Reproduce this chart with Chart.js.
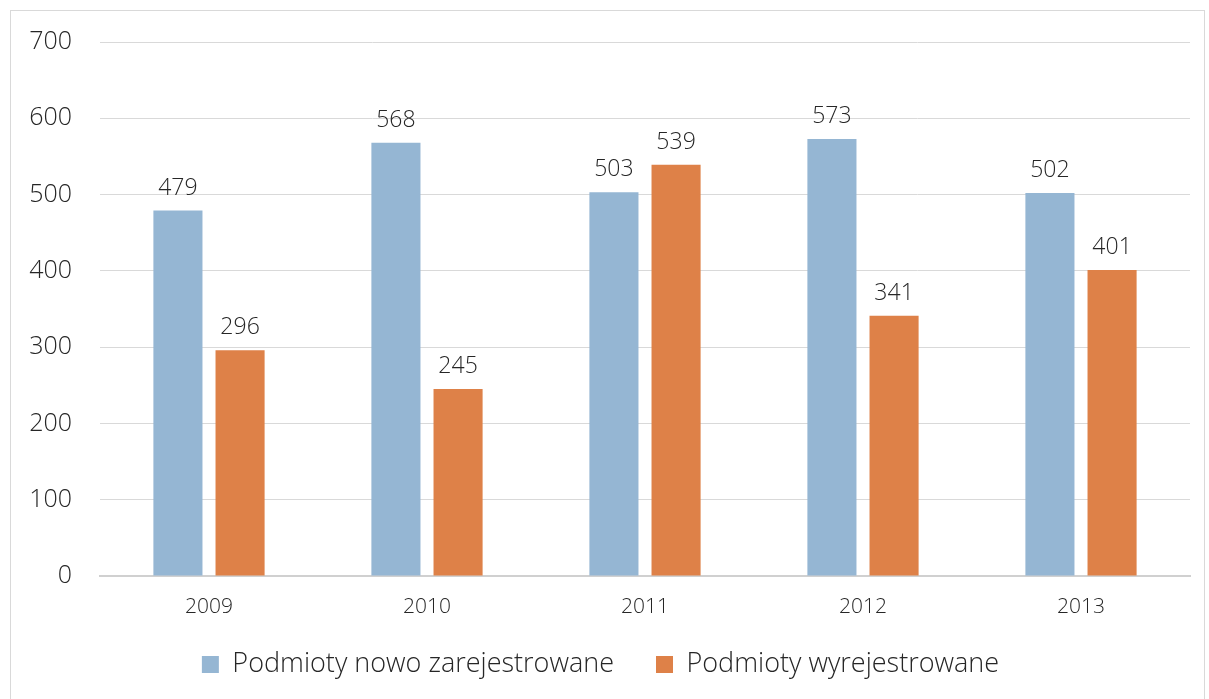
<!DOCTYPE html>
<html>
<head>
<meta charset="utf-8">
<script src="https://cdn.jsdelivr.net/npm/chart.js@4"></script>
<style>
  html, body { margin: 0; padding: 0; background: #ffffff; overflow: hidden; }
  #frame {
    position: absolute;
    left: 10px;
    top: 10px;
    width: 1195px;
    height: 720px;
    border: 1px solid #d9d9d9;
    box-sizing: border-box;
  }
</style>
</head>
<body>
<div id="frame"><canvas id="chart"></canvas></div>
<script>
"use strict";

const years = ['2009', '2010', '2011', '2012', '2013'];
const newlyRegistered = [479, 568, 503, 573, 502];
const deregistered = [296, 245, 539, 341, 401];
const yTicks = [0, 100, 200, 300, 400, 500, 600, 700];

const FONT = '"Open Sans", sans-serif';
const TEXT = '#262626';

// draws the value above each bar
const valueLabels = {
  id: 'valueLabels',
  afterDatasetsDraw(chart) {
    const ctx = chart.ctx;
    ctx.save();
    ctx.font = '300 23px ' + FONT;
    ctx.fillStyle = TEXT;
    ctx.textAlign = 'center';
    ctx.textBaseline = 'bottom';
    chart.data.datasets.forEach((ds, i) => {
      chart.getDatasetMeta(i).data.forEach((bar, j) => {
        ctx.fillText(String(ds.data[j]), bar.x, bar.y - 11);
      });
    });
    ctx.restore();
  }
};

// pulls the legend a bit closer to the axis labels
const legendLift = {
  id: 'legendLift',
  afterLayout(chart) {
    const lg = chart.legend;
    lg.top -= 15;
    lg.bottom -= 15;
  }
};

new Chart(document.getElementById('chart'), {
  type: 'bar',
  data: {
    labels: years,
    datasets: [
      {
        label: 'Podmioty nowo zarejestrowane',
        data: newlyRegistered,
        backgroundColor: '#95B6D3'
      },
      {
        label: 'Podmioty wyrejestrowane',
        data: deregistered,
        backgroundColor: '#DE8148'
      }
    ]
  },
  options: {
    responsive: true,
    maintainAspectRatio: false,
    animation: false,
    layout: {
      padding: { left: 0, right: 14, top: 31, bottom: 26 }
    },
    datasets: {
      bar: { categoryPercentage: 0.57, barPercentage: 0.79 }
    },
    scales: {
      x: {
        afterFit(scale) { scale.height = 48; },
        grid: { display: false, drawTicks: false },
        border: { color: '#d0d0d0', width: 2 },
        ticks: {
          color: TEXT,
          padding: 18,
          font: { family: FONT, size: 21, weight: 300 }
        }
      },
      y: {
        min: 0,
        max: 700,
        afterFit(scale) {
          scale.width = 89;
          scale.paddingTop = 0;
          scale.paddingBottom = 0;
        },
        afterBuildTicks(scale) { scale.ticks = yTicks.map(v => ({ value: v })); },
        grid: { color: '#d9d9d9', lineWidth: 1, drawTicks: false },
        border: { display: false },
        ticks: {
          color: TEXT,
          padding: 28,
          font: { family: FONT, size: 25, weight: 300 }
        }
      }
    },
    plugins: {
      legend: {
        position: 'bottom',
        labels: {
          color: TEXT,
          boxWidth: 17,
          boxHeight: 17,
          padding: 42,
          font: { family: FONT, size: 27, weight: 300 }
        }
      },
      tooltip: { enabled: false }
    }
  },
  plugins: [valueLabels, legendLift]
});
</script>
</body>
</html>
